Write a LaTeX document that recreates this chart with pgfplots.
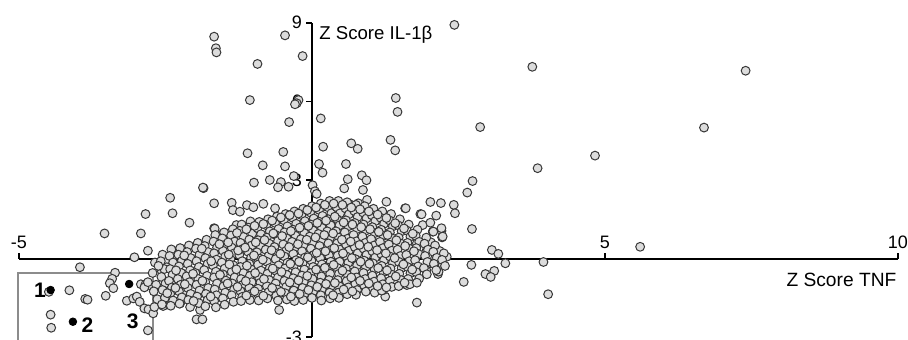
\documentclass[border=0pt]{standalone}
\usepackage{fontspec}
\setmainfont{Liberation Sans}
\usepackage{pgfplots}
\pgfplotsset{compat=1.18}
\definecolor{dotfill}{RGB}{220,220,220}
\definecolor{dotedge}{RGB}{55,55,55}
\definecolor{boxgray}{RGB}{140,140,140}
\newcommand{\gbeta}{\symbol{"03B2}}

\begin{document}
\begin{tikzpicture}
\begin{axis}[
  scale only axis, width=439.5pt, height=157.2pt,
  xmin=-5, xmax=10, ymin=-3, ymax=9,
  axis lines=middle,
  axis line style={line width=1pt, -},
  every inner x axis line/.append style={-},
  every inner y axis line/.append style={-},
  clip=false,
  xtick={-5,5,10}, ytick={-3,3,6,9},
  major tick length=0pt,
  tick label style={font=\fontsize{9}{10}\selectfont},
  /pgf/number format/assume math mode=true,
  xticklabel style={anchor=south, yshift=1.5pt},
  yticklabel style={anchor=east, xshift=-1.5pt},
]
% tick marks: up from the x axis, left from the y axis
\draw[line width=0.8pt] (axis cs:-5,0) -- ++(0pt,3pt);
\draw[line width=0.8pt] (axis cs:5,0) -- ++(0pt,3pt);
\draw[line width=0.8pt] (axis cs:10,0) -- ++(0pt,3pt);
\draw[line width=0.8pt] (axis cs:0,-3) -- ++(-3pt,0pt);
\draw[line width=0.8pt] (axis cs:0,3) -- ++(-3pt,0pt);
\draw[line width=0.8pt] (axis cs:0,6) -- ++(-3pt,0pt);
\draw[line width=0.8pt] (axis cs:0,9) -- ++(-3pt,0pt);

% selection box around the three marked samples
\draw[boxgray, line width=1pt] (axis cs:-5.01,-3.6) rectangle (axis cs:-2.71,-0.56);

\addplot[only marks, mark=*, mark size=2.2pt,
  mark options={fill=dotfill, draw=dotedge, line width=0.5pt}] coordinates {
% upper outliers
(-1.67,8.47) (-1.64,8.03) (-1.63,7.87) (-0.46,8.52) (-0.16,7.73) (-0.93,7.43)
(-1.06,6.05) (-0.23,6.05) (-0.26,5.93) (-0.29,5.89) (-0.39,5.21) (-1.10,4.02)
(-0.49,4.07) (-0.84,3.56) (-0.46,3.52) (-0.31,3.15) (-0.99,2.90) (-0.72,3.00)
(-0.53,2.92) (-0.58,2.72) (-0.40,2.74) (-1.85,2.69) (-2.42,2.32) (0.01,2.80) (0.05,2.57)
(1.43,6.13) (1.46,5.60) (0.15,5.35) (2.87,5.02) (1.34,4.53) (1.42,4.13) (0.67,4.40)
(0.78,4.19) (0.19,4.27) (0.12,3.61) (0.18,3.28) (0.58,3.61) (0.85,3.18) (0.93,2.99)
(0.61,3.03) (0.55,2.68) (0.87,2.62) (2.74,2.96) (2.65,2.52) (0.08,2.47) (1.27,2.17)
(0.94,2.24) (0.79,2.11) (0.64,2.08) (2.02,2.16) (2.20,2.12) (2.42,2.05) (2.44,1.73)
(1.59,1.92) (1.85,1.70) (2.12,1.64)
(2.43,8.92) (3.76,7.32) (7.40,7.17) (6.69,5.00) (4.83,3.93) (3.85,3.45)
% right flank
(1.87,1.69) (1.89,1.28) (2.02,1.37) (2.73,1.13) (2.21,1.06) (2.22,0.81) (2.06,1.03)
(2.03,0.62) (1.96,0.33) (2.18,0.29) (2.25,0.07) (2.10,0.01) (2.23,-0.26) (2.15,-0.59)
(2.01,-0.18) (1.95,-0.44) (3.07,0.33) (3.18,0.18) (3.30,-0.18) (2.72,-0.24) (2.96,-0.59)
(3.11,-0.47) (3.05,-0.70) (2.59,-0.89) (3.95,-0.13) (4.03,-1.36) (5.60,0.45)
(1.79,-1.68) (1.25,-1.45) (1.16,-1.20) (-0.56,-1.96) (1.60,1.92) (2.07,1.03) (2.21,1.16)
(2.23,0.84) (1.79,0.58) (2.30,0.07) (2.16,-0.50) (1.62,-1.01) (1.22,-1.20)
% upper left flank
(-1.37,2.13) (-1.35,1.85) (-1.23,1.79) (-1.11,2.04) (-1.00,1.96) (-0.83,2.09) (-0.63,1.92)
(-1.67,1.16) (-1.52,0.94) (-1.29,1.28) (-1.17,1.22) (-1.03,1.22)
% left tail
(-3.54,0.96) (-2.92,0.96) (-2.84,1.70) (-2.38,1.73) (-1.86,2.71) (-2.09,1.37) (-1.66,1.14)
(-1.67,2.11) (-2.80,0.30) (-3.03,0.05) (-3.96,-0.33) (-3.36,-0.54) (-3.41,-0.77)
(-3.45,-0.94) (-3.39,-1.13) (-3.52,-1.42) (-4.14,-1.21) (-3.87,-1.54) (-3.83,-1.57)
(-4.46,-2.14) (-4.45,-2.64) (-4.49,-1.27)
(-2.29,0.30) (-2.38,-0.05) (-2.50,-0.09) (-2.57,-0.44) (-2.48,-0.33)
(-3.16,-1.61) (-3.05,-1.52) (-2.99,-1.45) (-2.94,-1.65) (-2.86,-1.90) (-2.79,-1.94)
(-2.71,-2.09) (-2.80,-2.74) (-2.92,-0.98) (-2.84,-0.98) (-2.75,-1.04) (-2.86,-1.10)
(-2.80,-0.90) (-2.54,-1.81) (-1.91,-1.96) (-1.97,-2.32) (-1.87,-2.32) (-2.25,-1.71)
(-2.20,-1.30) (-2.51,-1.52)
% main cloud
(-2.68,-0.15) (-2.72,-0.55) (-2.66,-1.00) (-2.70,-1.25) (-2.64,-1.55) (-2.69,-1.85)
(-2.55,0.15) (-2.58,-0.10) (-2.52,-0.40) (-2.57,-0.70) (-2.50,-0.95) (-2.55,-1.20) (-2.51,-1.50) (-2.56,-1.75)
(-2.40,0.35) (-2.43,0.10) (-2.37,-0.15) (-2.42,-0.40) (-2.38,-0.62) (-2.44,-0.85) (-2.39,-1.10) (-2.42,-1.35) (-2.37,-1.60) (-2.41,-1.80)
(-2.25,0.40) (-2.28,0.15) (-2.22,-0.08) (-2.27,-0.30) (-2.23,-0.55) (-2.29,-0.78) (-2.24,-1.00) (-2.27,-1.25) (-2.22,-1.48) (-2.26,-1.72)
(-2.10,0.50) (-2.13,0.25) (-2.07,0.02) (-2.12,-0.20) (-2.08,-0.45) (-2.14,-0.68) (-2.09,-0.90) (-2.12,-1.12) (-2.07,-1.35) (-2.11,-1.58) (-2.08,-1.85)
(-1.95,0.60) (-1.98,0.38) (-1.92,0.14) (-1.97,-0.10) (-1.93,-0.32) (-1.99,-0.55) (-1.94,-0.78) (-1.97,-1.00) (-1.92,-1.22) (-1.96,-1.45) (-1.93,-1.70)
(-1.80,0.72) (-1.83,0.48) (-1.77,0.25) (-1.82,0.02) (-1.78,-0.20) (-1.84,-0.44) (-1.79,-0.66) (-1.82,-0.90) (-1.77,-1.12) (-1.81,-1.35) (-1.78,-1.58) (-1.82,-1.82)
(-1.65,0.90) (-1.68,0.65) (-1.62,0.42) (-1.67,0.20) (-1.63,-0.04) (-1.69,-0.26) (-1.64,-0.50) (-1.67,-0.72) (-1.62,-0.95) (-1.66,-1.18) (-1.63,-1.40) (-1.67,-1.62) (-1.64,-1.86)
(-1.50,1.00) (-1.53,0.77) (-1.47,0.54) (-1.52,0.30) (-1.48,0.08) (-1.54,-0.15) (-1.49,-0.38) (-1.52,-0.60) (-1.47,-0.84) (-1.51,-1.06) (-1.48,-1.30) (-1.52,-1.52) (-1.49,-1.76)
(-1.35,1.12) (-1.38,0.88) (-1.32,0.65) (-1.37,0.42) (-1.33,0.20) (-1.39,-0.03) (-1.34,-0.26) (-1.37,-0.50) (-1.32,-0.72) (-1.36,-0.95) (-1.33,-1.18) (-1.37,-1.40) (-1.34,-1.65)
(-1.20,1.30) (-1.23,1.06) (-1.17,0.83) (-1.22,0.60) (-1.18,0.37) (-1.24,0.14) (-1.19,-0.10) (-1.22,-0.32) (-1.17,-0.55) (-1.21,-0.78) (-1.18,-1.00) (-1.22,-1.24) (-1.19,-1.46) (-1.21,-1.62)
(-1.05,1.42) (-1.08,1.18) (-1.02,0.95) (-1.07,0.72) (-1.03,0.50) (-1.09,0.26) (-1.04,0.03) (-1.07,-0.20) (-1.02,-0.43) (-1.06,-0.66) (-1.03,-0.90) (-1.07,-1.12) (-1.04,-1.35) (-1.06,-1.58)
(-0.90,1.40) (-0.93,1.16) (-0.87,0.93) (-0.92,0.70) (-0.88,0.47) (-0.94,0.24) (-0.89,0.00) (-0.92,-0.23) (-0.87,-0.46) (-0.91,-0.69) (-0.88,-0.92) (-0.92,-1.15) (-0.89,-1.38) (-0.91,-1.60)
(-0.75,1.50) (-0.78,1.27) (-0.72,1.04) (-0.77,0.80) (-0.73,0.57) (-0.79,0.34) (-0.74,0.10) (-0.77,-0.12) (-0.72,-0.36) (-0.76,-0.58) (-0.73,-0.82) (-0.77,-1.05) (-0.74,-1.28) (-0.76,-1.52)
(-0.60,1.60) (-0.63,1.36) (-0.57,1.13) (-0.62,0.90) (-0.58,0.67) (-0.64,0.44) (-0.59,0.20) (-0.62,-0.02) (-0.57,-0.26) (-0.61,-0.48) (-0.58,-0.72) (-0.62,-0.95) (-0.59,-1.18) (-0.61,-1.42) (-0.58,-1.60)
(-0.45,1.70) (-0.48,1.46) (-0.42,1.23) (-0.47,1.00) (-0.43,0.77) (-0.49,0.54) (-0.44,0.30) (-0.47,0.08) (-0.42,-0.16) (-0.46,-0.38) (-0.43,-0.62) (-0.47,-0.85) (-0.44,-1.08) (-0.46,-1.32) (-0.43,-1.56)
(-0.30,1.80) (-0.33,1.56) (-0.27,1.33) (-0.32,1.10) (-0.28,0.87) (-0.34,0.64) (-0.29,0.40) (-0.32,0.18) (-0.27,-0.06) (-0.31,-0.28) (-0.28,-0.52) (-0.32,-0.75) (-0.29,-0.98) (-0.31,-1.22) (-0.28,-1.46) (-0.30,-1.62)
(-0.15,1.90) (-0.18,1.66) (-0.12,1.43) (-0.17,1.20) (-0.13,0.97) (-0.19,0.74) (-0.14,0.50) (-0.17,0.28) (-0.12,0.04) (-0.16,-0.18) (-0.13,-0.42) (-0.17,-0.65) (-0.14,-0.88) (-0.16,-1.12) (-0.13,-1.36) (-0.15,-1.58)
(0.00,2.00) (-0.03,1.76) (0.03,1.53) (-0.02,1.30) (0.02,1.07) (-0.04,0.84) (0.01,0.60) (-0.02,0.38) (0.03,0.14) (-0.01,-0.08) (0.02,-0.32) (-0.02,-0.55) (0.01,-0.78) (-0.01,-1.02) (0.02,-1.26) (0.00,-1.50)
(0.15,2.10) (0.12,1.86) (0.18,1.63) (0.13,1.40) (0.17,1.17) (0.11,0.94) (0.16,0.70) (0.13,0.48) (0.18,0.24) (0.14,0.02) (0.17,-0.22) (0.13,-0.45) (0.16,-0.68) (0.14,-0.92) (0.17,-1.16) (0.15,-1.40) (0.16,-1.60)
(0.30,2.20) (0.27,1.96) (0.33,1.73) (0.28,1.50) (0.32,1.27) (0.26,1.04) (0.31,0.80) (0.28,0.58) (0.33,0.34) (0.29,0.12) (0.32,-0.12) (0.28,-0.35) (0.31,-0.58) (0.29,-0.82) (0.32,-1.06) (0.30,-1.30) (0.31,-1.52)
(0.45,2.20) (0.42,1.96) (0.48,1.73) (0.43,1.50) (0.47,1.27) (0.41,1.04) (0.46,0.80) (0.43,0.58) (0.48,0.34) (0.44,0.12) (0.47,-0.12) (0.43,-0.35) (0.46,-0.58) (0.44,-0.82) (0.47,-1.06) (0.45,-1.30) (0.46,-1.50)
(0.60,2.15) (0.57,1.92) (0.63,1.69) (0.58,1.46) (0.62,1.23) (0.56,1.00) (0.61,0.76) (0.58,0.54) (0.63,0.30) (0.59,0.08) (0.62,-0.16) (0.58,-0.39) (0.61,-0.62) (0.59,-0.86) (0.62,-1.10) (0.60,-1.36)
(0.75,2.05) (0.72,1.82) (0.78,1.59) (0.73,1.36) (0.77,1.13) (0.71,0.90) (0.76,0.66) (0.73,0.44) (0.78,0.20) (0.74,-0.02) (0.77,-0.26) (0.73,-0.49) (0.76,-0.72) (0.74,-0.96) (0.77,-1.20) (0.75,-1.38)
(0.90,2.00) (0.87,1.76) (0.93,1.53) (0.88,1.30) (0.92,1.07) (0.86,0.84) (0.91,0.60) (0.88,0.38) (0.93,0.14) (0.89,-0.08) (0.92,-0.32) (0.88,-0.55) (0.91,-0.78) (0.89,-1.02) (0.92,-1.26)
(1.05,1.90) (1.02,1.66) (1.08,1.43) (1.03,1.20) (1.07,0.97) (1.01,0.74) (1.06,0.50) (1.03,0.28) (1.08,0.04) (1.04,-0.18) (1.07,-0.42) (1.03,-0.65) (1.06,-0.88) (1.04,-1.12) (1.07,-1.30)
(1.20,1.80) (1.17,1.56) (1.23,1.33) (1.18,1.10) (1.22,0.87) (1.16,0.64) (1.21,0.40) (1.18,0.18) (1.23,-0.06) (1.19,-0.28) (1.22,-0.52) (1.18,-0.75) (1.21,-0.98) (1.19,-1.22)
(1.35,1.70) (1.32,1.46) (1.38,1.23) (1.33,1.00) (1.37,0.77) (1.31,0.54) (1.36,0.30) (1.33,0.08) (1.38,-0.16) (1.34,-0.38) (1.37,-0.62) (1.33,-0.85) (1.36,-1.08)
(1.50,1.50) (1.47,1.27) (1.53,1.04) (1.48,0.80) (1.52,0.57) (1.46,0.34) (1.51,0.10) (1.48,-0.12) (1.53,-0.36) (1.49,-0.58) (1.52,-0.82) (1.48,-1.05)
(1.65,1.30) (1.62,1.07) (1.68,0.84) (1.63,0.60) (1.67,0.37) (1.61,0.14) (1.66,-0.10) (1.63,-0.32) (1.68,-0.56) (1.64,-0.78) (1.67,-0.98)
(1.80,1.10) (1.77,0.87) (1.83,0.64) (1.78,0.40) (1.82,0.17) (1.76,-0.06) (1.81,-0.30) (1.78,-0.52) (1.83,-0.76) (1.79,-0.92)
(1.95,0.80) (1.92,0.57) (1.98,0.34) (1.93,0.10) (1.97,-0.13) (1.91,-0.36) (1.96,-0.60)
(2.10,0.50) (2.07,0.26) (2.13,0.03) (2.08,-0.20) (2.12,-0.44)
(2.25,0.20) (2.22,-0.05) (2.27,-0.28)
% samples lying between the columns above, densest part of the cloud
(-2.62,-0.28) (-2.47,-1.32) (-2.32,-0.45) (-2.33,-1.12) (-2.18,0.12) (-2.17,-0.98)
(-2.03,-0.58) (-2.02,-1.62) (-1.88,0.38) (-1.87,-0.85) (-1.72,-0.10) (-1.73,-1.45)
(-1.58,0.55) (-1.57,-0.62)
(-1.43,0.62) (-1.41,-0.22) (-1.44,-0.95) (-1.42,0.15)
(-1.28,0.98) (-1.26,0.31) (-1.29,-0.41) (-1.27,-1.08)
(-1.12,1.12) (-1.14,0.42) (-1.11,-0.27) (-1.13,-0.86) (-1.12,-1.41)
(-0.98,1.25) (-0.96,0.62) (-0.99,0.12) (-0.97,-0.55) (-0.98,-1.25)
(-0.83,1.32) (-0.81,0.71) (-0.84,-0.04) (-0.82,-0.78) (-0.83,-1.42)
(-0.68,1.45) (-0.66,0.96) (-0.69,0.32) (-0.67,-0.38) (-0.68,-1.12)
(-0.53,1.57) (-0.51,0.86) (-0.54,0.18) (-0.52,-0.51) (-0.53,-1.27)
(-0.38,1.66) (-0.36,1.05) (-0.39,0.44) (-0.37,-0.20) (-0.38,-0.91) (-0.36,-1.45)
(-0.23,1.72) (-0.21,1.18) (-0.24,0.55) (-0.22,-0.12) (-0.23,-0.83) (-0.21,-1.35)
(-0.08,1.85) (-0.06,1.25) (-0.09,0.72) (-0.07,0.05) (-0.08,-0.66) (-0.06,-1.20)
(0.07,1.95) (0.09,1.36) (0.06,0.81) (0.08,0.22) (0.07,-0.42) (0.09,-1.08)
(0.22,2.05) (0.24,1.45) (0.21,0.90) (0.23,0.28) (0.22,-0.35) (0.24,-0.97)
(0.37,2.10) (0.39,1.60) (0.36,0.96) (0.38,0.40) (0.37,-0.24) (0.39,-0.93) (0.36,-1.40)
(0.52,2.05) (0.54,1.38) (0.51,0.72) (0.53,0.20) (0.52,-0.46) (0.54,-1.18)
(0.67,1.95) (0.69,1.30) (0.66,0.65) (0.68,0.02) (0.67,-0.72) (0.69,-1.25)
(0.82,1.88) (0.84,1.20) (0.81,0.52) (0.83,-0.12) (0.82,-0.85)
(0.97,1.80) (0.99,1.12) (0.96,0.45) (0.98,-0.20) (0.97,-0.95)
(1.12,1.68) (1.14,1.02) (1.11,0.32) (1.13,-0.36) (1.12,-1.05)
(1.27,1.55) (1.29,0.90) (1.26,0.20) (1.28,-0.45) (1.27,-1.10)
(1.42,1.35) (1.44,0.70) (1.41,0.02) (1.43,-0.68)
(1.57,1.15) (1.59,0.48) (1.56,-0.22) (1.58,-0.92)
(1.72,0.95) (1.74,0.28) (1.71,-0.42)
};

% the three highlighted samples
\addplot[only marks, mark=*, mark size=1.9pt, black] coordinates {
(-4.46,-1.20) (-4.08,-2.41) (-3.12,-0.97)
};

\path (axis cs:-5.324,-3.107) coordinate (bl) (axis cs:10.171,9.870) coordinate (tr);
\path (axis cs:0,8.38) coordinate (ylab) (axis cs:9.98,-1.05) coordinate (xlab);
\path (axis cs:-4.64,-1.22) coordinate (n1) (axis cs:-3.83,-2.55) coordinate (n2)
      (axis cs:-3.06,-2.40) coordinate (n3);
\end{axis}

% sample numbers and axis titles
\node[font=\fontsize{10.5}{12}\selectfont\bfseries] at (n1) {1};
\node[font=\fontsize{10.5}{12}\selectfont\bfseries] at (n2) {2};
\node[font=\fontsize{10.5}{12}\selectfont\bfseries] at (n3) {3};
\node[anchor=base west, inner sep=0pt, xshift=3.5pt, font=\fontsize{9.3}{10}\selectfont]
  at (ylab) {Z Score IL-1\gbeta};
\node[anchor=base east, inner sep=0pt, font=\fontsize{9.6}{10}\selectfont]
  at (xlab) {Z Score TNF};

\pgfresetboundingbox
\useasboundingbox (bl) rectangle (tr);
\end{tikzpicture}
\end{document}
